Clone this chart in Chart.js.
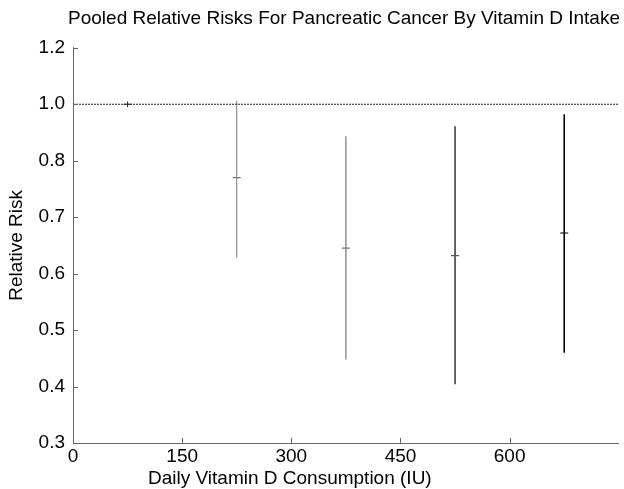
<!DOCTYPE html>
<html>
<head>
<meta charset="utf-8">
<title>Pooled Relative Risks</title>
<script src="https://cdn.jsdelivr.net/npm/chart.js@4/dist/chart.umd.min.js"></script>
<style>
  html, body { margin: 0; padding: 0; background: #fff; }
  #wrap { width: 624px; height: 489px; }
</style>
</head>
<body>
<div id="wrap"><canvas id="rrChart" width="624" height="489"></canvas></div>
<script>
// data
const doseIU = [75, 225, 375, 525, 675];
const rrPoint = [1.0, 0.77, 0.645, 0.632, 0.672];
const rrLower = [0.99, 0.628, 0.448, 0.404, 0.46];
const rrUpper = [1.01, 1.012, 0.887, 0.922, 0.965];
const refRisk = 1.0;

// y axis of the original is drawn with evenly spaced, uneven labels
const yTickValues = [0.3, 0.4, 0.5, 0.6, 0.7, 0.8, 1.0, 1.2];
const yTickLabels = ['0.3', '0.4', '0.5', '0.6', '0.7', '0.8', '1.0', '1.2'];
const xTickValues = [0, 150, 300, 450, 600];
const xMax = 750;

const barColors = ['#222', '#777', '#777', '#555', '#000'];
const barWidths = [1, 1, 1.2, 1.8, 1.6];

const FONT = '"Liberation Sans", Arial, Helvetica, sans-serif';

// map a risk value to its slot on the evenly spaced axis
function riskToPos(v) {
    for (let i = 0; i < yTickValues.length - 1; i++) {
        const a = yTickValues[i], b = yTickValues[i + 1];
        if (v <= b || i === yTickValues.length - 2) {
            return i + (v - a) / (b - a);
        }
    }
}

const datasets = [];

datasets.push({
    type: 'line',
    data: [{ x: 0, y: riskToPos(refRisk) }, { x: xMax, y: riskToPos(refRisk) }],
    borderColor: '#222',
    borderWidth: 1,
    borderDash: [2, 1],
    pointRadius: 0,
    fill: false
});

doseIU.forEach((d, i) => {
    datasets.push({
        type: 'line',
        data: [{ x: d, y: riskToPos(rrLower[i]) }, { x: d, y: riskToPos(rrUpper[i]) }],
        borderColor: barColors[i],
        borderWidth: barWidths[i],
        pointRadius: 0,
        fill: false
    });
});

datasets.push({
    type: 'scatter',
    data: doseIU.map((d, i) => ({ x: d, y: riskToPos(rrPoint[i]) })),
    pointStyle: 'line',
    pointRadius: 4,
    borderWidth: 1.2,
    borderColor: barColors,
    backgroundColor: barColors
});

// tick marks point into the plot, and the x title sits left of centre
const insideTicks = {
    id: 'insideTicks',
    afterDraw(chart) {
        const { ctx, chartArea, scales } = chart;
        ctx.save();
        ctx.strokeStyle = '#666';
        ctx.lineWidth = 1;
        ctx.beginPath();
        for (let i = 1; i < yTickValues.length; i++) {
            const y = Math.round(scales.y.getPixelForValue(i)) + 0.5;
            ctx.moveTo(chartArea.left, y);
            ctx.lineTo(chartArea.left + 5, y);
        }
        xTickValues.forEach(v => {
            if (v === 0) return;
            const x = Math.round(scales.x.getPixelForValue(v)) + 0.5;
            ctx.moveTo(x, chartArea.bottom);
            ctx.lineTo(x, chartArea.bottom - 5);
        });
        ctx.stroke();

        ctx.fillStyle = '#000';
        ctx.font = '19px ' + FONT;
        ctx.textAlign = 'left';
        ctx.textBaseline = 'alphabetic';
        ctx.fillText('Daily Vitamin D Consumption (IU)', chartArea.left + 75, 484);
        ctx.restore();
    }
};

new Chart(document.getElementById('rrChart'), {
    type: 'scatter',
    data: { datasets },
    options: {
        responsive: false,
        animation: false,
        devicePixelRatio: 1,
        layout: { padding: { left: 0, right: 4, top: 0, bottom: 0 } },
        plugins: {
            legend: { display: false },
            tooltip: { enabled: false },
            title: {
                display: true,
                text: 'Pooled Relative Risks For Pancreatic Cancer By Vitamin D Intake',
                align: 'end',
                color: '#000',
                font: { family: FONT, size: 19, weight: 'normal' },
                padding: { top: 7, bottom: 18 }
            }
        },
        scales: {
            x: {
                type: 'linear',
                min: 0,
                max: xMax,
                afterBuildTicks: scale => {
                    scale.ticks = xTickValues.map(v => ({ value: v }));
                },
                ticks: {
                    autoSkip: false,
                    maxRotation: 0,
                    padding: 2,
                    color: '#000',
                    font: { family: FONT, size: 19 }
                },
                grid: { drawOnChartArea: false, drawTicks: false },
                border: { display: true, color: '#666', width: 1 },
                afterFit: scale => { scale.height = 46; }
            },
            y: {
                type: 'linear',
                min: 0,
                max: yTickValues.length - 1,
                afterBuildTicks: scale => {
                    scale.ticks = yTickValues.map((v, i) => ({ value: i }));
                },
                ticks: {
                    autoSkip: false,
                    padding: 8,
                    color: '#000',
                    font: { family: FONT, size: 19 },
                    callback: (value) => yTickLabels[value]
                },
                title: {
                    display: true,
                    text: 'Relative Risk',
                    color: '#000',
                    font: { family: FONT, size: 19 },
                    padding: { top: 5, bottom: 0 }
                },
                grid: { drawOnChartArea: false, drawTicks: false },
                border: { display: true, color: '#666', width: 1 },
                afterFit: scale => { scale.width = 73; }
            }
        }
    },
    plugins: [insideTicks]
});
</script>
</body>
</html>
